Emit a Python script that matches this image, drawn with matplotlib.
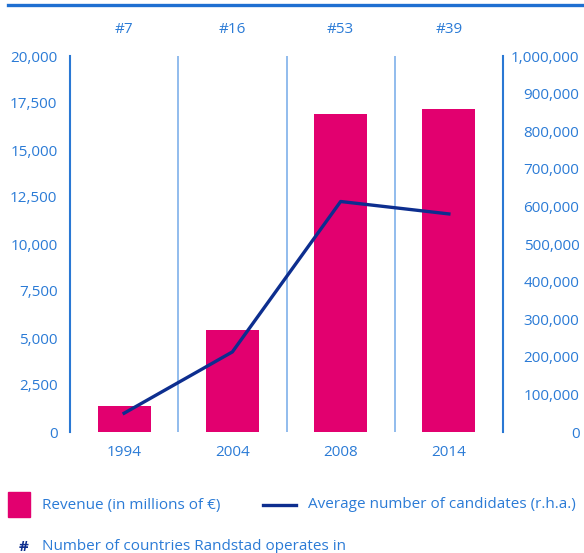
import matplotlib
matplotlib.use("Agg")
import matplotlib.pyplot as plt
from matplotlib.lines import Line2D
from matplotlib.patches import Rectangle

# data
years = ["1994", "2004", "2008", "2014"]
countries = ["#7", "#16", "#53", "#39"]
revenue = [1400, 5400, 16900, 17200]            # millions of EUR, left axis
candidates = [50000, 213000, 613000, 580000]    # right axis

left_ticks = [0, 2500, 5000, 7500, 10000, 12500, 15000, 17500, 20000]
right_ticks = [0, 100000, 200000, 300000, 400000, 500000,
               600000, 700000, 800000, 900000, 1000000]

TXT = "#2b7bd6"
AXC = "#2a78d4"
SEP = "#7fb0ea"
BAR = "#e2006f"
LINE = "#0d2e8f"

plt.rcParams['font.family'] = ['Open Sans', 'DejaVu Sans']
fs = 11

fig = plt.figure(figsize=(5.84, 5.53), dpi=100)
ax = fig.add_axes([70/584, 1 - 432/553, 433/584, 376/553])
ax2 = ax.twinx()

x = list(range(len(years)))
ax.bar(x, revenue, width=0.49, color=BAR, zorder=2)
ax2.plot(x, candidates, color=LINE, lw=2.4, zorder=3)
ax2.set_zorder(ax.get_zorder() + 1)
ax2.patch.set_visible(False)

ax.set_xlim(-0.5, len(years) - 0.5)
ax.set_ylim(0, 20000)
ax2.set_ylim(0, 1000000)

# separators between categories
for s in [0.5, 1.5, 2.5]:
    ax.axvline(s, color=SEP, lw=1.2, zorder=1)

for a in (ax, ax2):
    for side in ("top", "bottom"):
        a.spines[side].set_visible(False)
ax.spines["right"].set_visible(False)
ax.spines["left"].set_color(AXC)
ax.spines["left"].set_linewidth(1.5)
ax2.spines["left"].set_visible(False)
ax2.spines["right"].set_color(AXC)
ax2.spines["right"].set_linewidth(1.5)

ax.set_xticks(x)
ax.set_xticklabels(years)
ax.set_yticks(left_ticks)
ax.set_yticklabels([f"{v:,}" for v in left_ticks])
ax2.set_yticks(right_ticks)
ax2.set_yticklabels([f"{v:,}" for v in right_ticks])
ax.tick_params(axis="both", length=0, colors=TXT, labelsize=fs)
ax.tick_params(axis="y", pad=9)
ax.tick_params(axis="x", pad=9)
ax2.tick_params(axis="y", length=0, colors=TXT, labelsize=fs, pad=55)
for lab in ax2.get_yticklabels():
    lab.set_horizontalalignment("right")

# country counts above each column
for i, c in enumerate(countries):
    ax.annotate(c, xy=(i, 1.0), xycoords=("data", "axes fraction"),
                xytext=(0, 19), textcoords="offset points",
                ha="center", va="center", color=TXT, fontsize=fs)

# top rule
fig.add_artist(Line2D([8/584, 1], [1 - 5/553, 1 - 5/553],
                      color="#1f6fd1", lw=2.4))

# legend
fig.add_artist(Rectangle((8/584, 1 - 517/553), 22/584, 25/553,
                         color=BAR, transform=fig.transFigure))
fig.text(42/584, 1 - 505/553, "Revenue (in millions of €)",
         color=TXT, fontsize=fs, va="center")
fig.add_artist(Line2D([263/584, 296/584], [1 - 505/553, 1 - 505/553],
                      color=LINE, lw=2.4))
fig.text(308/584, 1 - 505/553, "Average number of candidates (r.h.a.)",
         color=TXT, fontsize=fs, va="center")
fig.text(24/584, 1 - 547/553, "#", color=LINE, fontsize=fs,
         va="center", ha="center", fontweight="bold")
fig.text(42/584, 1 - 546/553, "Number of countries Randstad operates in",
         color=TXT, fontsize=fs, va="center")

fig.savefig("out.png", dpi=100)
